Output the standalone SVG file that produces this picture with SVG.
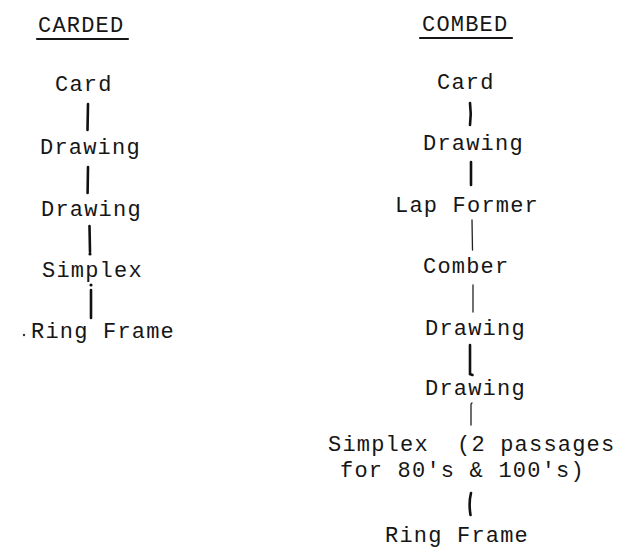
<svg xmlns="http://www.w3.org/2000/svg" width="619" height="553" viewBox="0 0 619 553">
  <style>
    .t { font-family: "Liberation Mono", "DejaVu Sans Mono", monospace; font-size: 22px; letter-spacing: 1.2px; fill: #161616; }
    .ul { stroke: #161616; stroke-width: 2.2; stroke-linecap: round; fill: none; }
    .c { stroke: #111; stroke-width: 2.6; stroke-linecap: round; fill: none; }
    .thin { stroke: #222; stroke-width: 1.3; stroke-linecap: round; fill: none; }
  </style>
  <rect width="619" height="553" fill="#fff"/>

  <!-- column headings -->
  <g id="heading-carded">
    <text class="t" x="38" y="32">CARDED</text>
    <line class="ul" x1="37" y1="39" x2="128" y2="39"/>
  </g>
  <g id="heading-combed">
    <text class="t" x="422" y="31">COMBED</text>
    <line class="ul" x1="420" y1="38" x2="512" y2="38"/>
  </g>

  <!-- carded sequence -->
  <g id="carded-card"><text class="t" x="55" y="91">Card</text></g>
  <g id="carded-drawing-1"><text class="t" x="40" y="154">Drawing</text></g>
  <g id="carded-drawing-2"><text class="t" x="41" y="216">Drawing</text></g>
  <g id="carded-simplex"><text class="t" x="42" y="277">Simplex</text></g>
  <g id="carded-ring-frame">
    <circle cx="24" cy="335" r="1.2" fill="#333"/>
    <text class="t" x="31" y="338">Ring Frame</text>
  </g>

  <!-- combed sequence -->
  <g id="combed-card"><text class="t" x="437" y="89">Card</text></g>
  <g id="combed-drawing-1"><text class="t" x="423" y="150">Drawing</text></g>
  <g id="combed-lap-former"><text class="t" x="395" y="212">Lap Former</text></g>
  <g id="combed-comber"><text class="t" x="423" y="273">Comber</text></g>
  <g id="combed-drawing-2"><text class="t" x="425" y="335">Drawing</text></g>
  <g id="combed-drawing-3"><text class="t" x="425" y="395">Drawing</text></g>
  <g id="combed-simplex">
    <text class="t" x="328" y="451">Simplex<tspan x="457">(2 passages</tspan></text>
    <text class="t" x="340" y="477">for 80's &amp; 100's)</text>
  </g>
  <g id="combed-ring-frame"><text class="t" x="385" y="542">Ring Frame</text></g>

  <!-- typed link marks between stages -->
  <g id="connectors">
    <path class="c" d="M88,104 L87.5,130"/>
    <path class="c" d="M88,167 L87.6,193"/>
    <path class="c" d="M89.5,226 L90,252"/>
    <circle cx="90" cy="254" r="1.6" fill="#111"/>
    <circle cx="91" cy="285" r="1.6" fill="#111"/>
    <path class="c" d="M91,290 L91,318"/>

    <path class="c" d="M470,103 Q471.5,114 470,125"/>
    <path class="c" d="M471,162 L471,185"/>
    <path class="thin" d="M472,220 L472.5,250"/>
    <path class="thin" d="M473,285 L473,312"/>
    <path class="c" d="M470,345 L470,374 L472.5,375"/>
    <path class="thin" d="M472,403 L471,404 L471,425" stroke-width="1.6"/>
    <path class="c" d="M471,493 Q468.5,503 470.5,515" stroke-width="3"/>
  </g>
</svg>
